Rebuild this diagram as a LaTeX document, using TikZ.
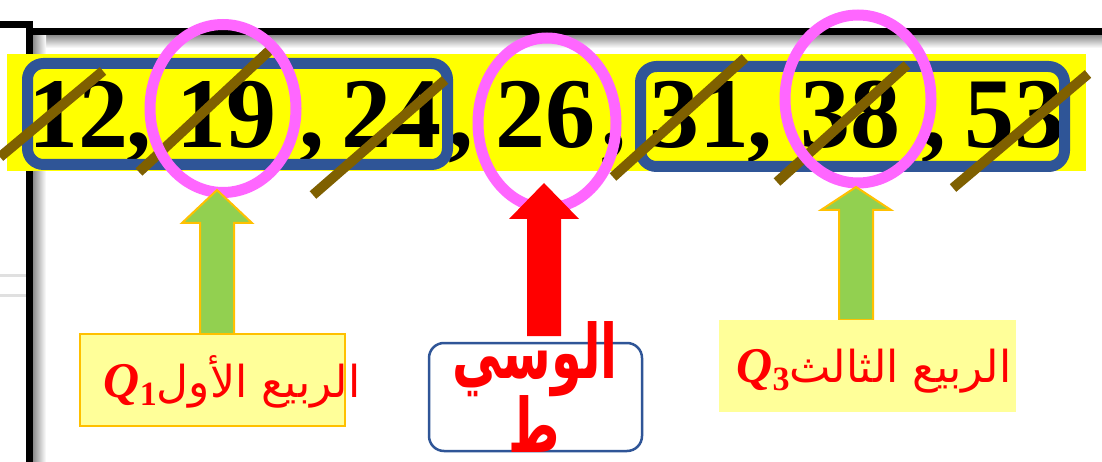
\documentclass[tikz,border=0pt]{standalone}
\usepackage{fontspec}
\usetikzlibrary{shapes.geometric}
\newfontfamily\arabicfont[Script=Arabic]{DejaVu Sans}
\newfontfamily\numfont{Liberation Serif}
\TeXXeTstate=1

\definecolor{bandyellow}{HTML}{FFFF00}
\definecolor{boxblue}{HTML}{2F5597}
\definecolor{strikebrown}{HTML}{7F6000}
\definecolor{ringpink}{HTML}{FF66FF}
\definecolor{arrowgreen}{HTML}{92D050}
\definecolor{edgeorange}{HTML}{FFC000}
\definecolor{paleyellow}{HTML}{FFFF99}

\tikzset{
  num/.style={font=\numfont\bfseries\fontsize{100}{100}\selectfont, inner sep=0pt, anchor=base},
  strikeline/.style={draw=strikebrown, line width=10pt},
  groupbox/.style={draw=boxblue, line width=11pt, rounded corners=16pt},
  pinkring/.style={ellipse, draw=ringpink, line width=11pt, inner sep=0pt},
  greenarrow/.style={fill=arrowgreen, draw=edgeorange, line width=2pt},
  redarrow/.style={fill=red, draw=none},
  qbox/.style={fill=paleyellow, inner sep=0pt},
  qtext/.style={font=\arabicfont\fontsize{44}{50}\selectfont, text=red, anchor=base, inner sep=0pt},
  medtext/.style={font=\arabicfont\bfseries\fontsize{75}{80}\selectfont, text=red, anchor=base, inner sep=0pt, xscale=0.66}
}

% quartile symbol: bold italic Q with a lowered index
\newcommand{\qsym}[1]{{\numfont\bfseries\itshape\fontsize{50}{50}\selectfont Q}%
  \raisebox{-8pt}{\numfont\bfseries\fontsize{34}{34}\selectfont #1}}

\newcommand{\fatarrow}[5]{%
  \filldraw[#1] (#2,#3) -- (#2+35,#4) -- (#2+17,#4) -- (#2+17,#5)
    -- (#2-17,#5) -- (#2-17,#4) -- (#2-35,#4) -- cycle;}

\begin{document}
\begin{tikzpicture}[x=1pt, y=-1pt]
  \useasboundingbox (0,0) rectangle (1102,462);
  \fill[white] (0,0) rectangle (1102,462);

  % slide frame
  \shade[top color=black!45, bottom color=white] (33,35) rectangle (1102,48);
  \shade[left color=black!45, right color=white] (33,35) rectangle (46,462);
  \draw[black!12, line width=3pt] (0,275) -- (26,275);
  \draw[black!12, line width=3pt] (0,295) -- (26,295);
  \draw[line width=7pt] (0,24.5) -- (33,24.5);
  \draw[line width=7pt] (29.5,21) -- (29.5,462);
  \draw[line width=7pt] (33,31.5) -- (1102,31.5);

  % data row
  \fill[bandyellow] (7,54) rectangle (1086,171);
  \node[num] (n12) at (78,148) {12};
  \node[num] (c1) at (139,148) {,};
  \node[num] (n19) at (226,148) {19};
  \node[num] (c2) at (312,148) {,};
  \node[num] (n24) at (391,148) {24};
  \node[num] (c3) at (461,148) {,};
  \node[num] (n26) at (545,148) {26};
  \node[num] (c4) at (614,148) {,};
  \node[num] (n31) at (699,148) {31};
  \node[num] (c5) at (760,148) {,};
  \node[num] (n38) at (850,148) {38};
  \node[num] (c6) at (934,148) {,};
  \node[num] (n53) at (1014,148) {53};

  \draw[groupbox] (27.5,63.5) rectangle (447.5,164.5);
  \draw[groupbox] (640.5,66.5) rectangle (1064.5,166.5);

  \draw[strikeline] (0,157) -- (103,71);
  \draw[strikeline] (139,172) -- (270,50);
  \draw[strikeline] (313,195) -- (445,80);
  \draw[strikeline] (613,177) -- (745,58);
  \draw[strikeline] (777,182) -- (907,65);
  \draw[strikeline] (953,188) -- (1088,74);

  \node[pinkring, minimum width=146pt, minimum height=168pt] (q1ring) at (223,108.5) {};
  \node[pinkring, minimum width=138pt, minimum height=170pt] (medring) at (547,123) {};
  \node[pinkring, minimum width=146pt, minimum height=168pt] (q3ring) at (858,99) {};

  % labels
  \fatarrow{greenarrow}{217}{190}{223}{334}
  \fatarrow{greenarrow}{856}{187}{210}{320}
  \fatarrow{redarrow}{544}{183}{219}{336}

  \node[qbox, draw=edgeorange, line width=1.5pt, minimum width=265pt, minimum height=92pt] (q1box) at (212.5,380) {};
  \node[qtext] (q1label) at (232,397) {\beginR الربيع الأول\beginL\qsym{1}\endL\endR};

  \node[qbox, minimum width=297pt, minimum height=92pt] (q3box) at (867.5,366) {};
  \node[qtext] (q3label) at (874,382) {\beginR الربيع الثالث\beginL\qsym{3}\endL\endR};

  \node[draw=boxblue, fill=white, line width=2.5pt, rounded corners=15pt,
    minimum width=213pt, minimum height=108pt] (medbox) at (535.5,397) {};
  \node[medtext] (medtop) at (535,378) {\beginR الوسي\endR};
  \node[medtext, text depth=0pt] (medbottom) at (534,452) {\beginR ط\endR};
\end{tikzpicture}
\end{document}
